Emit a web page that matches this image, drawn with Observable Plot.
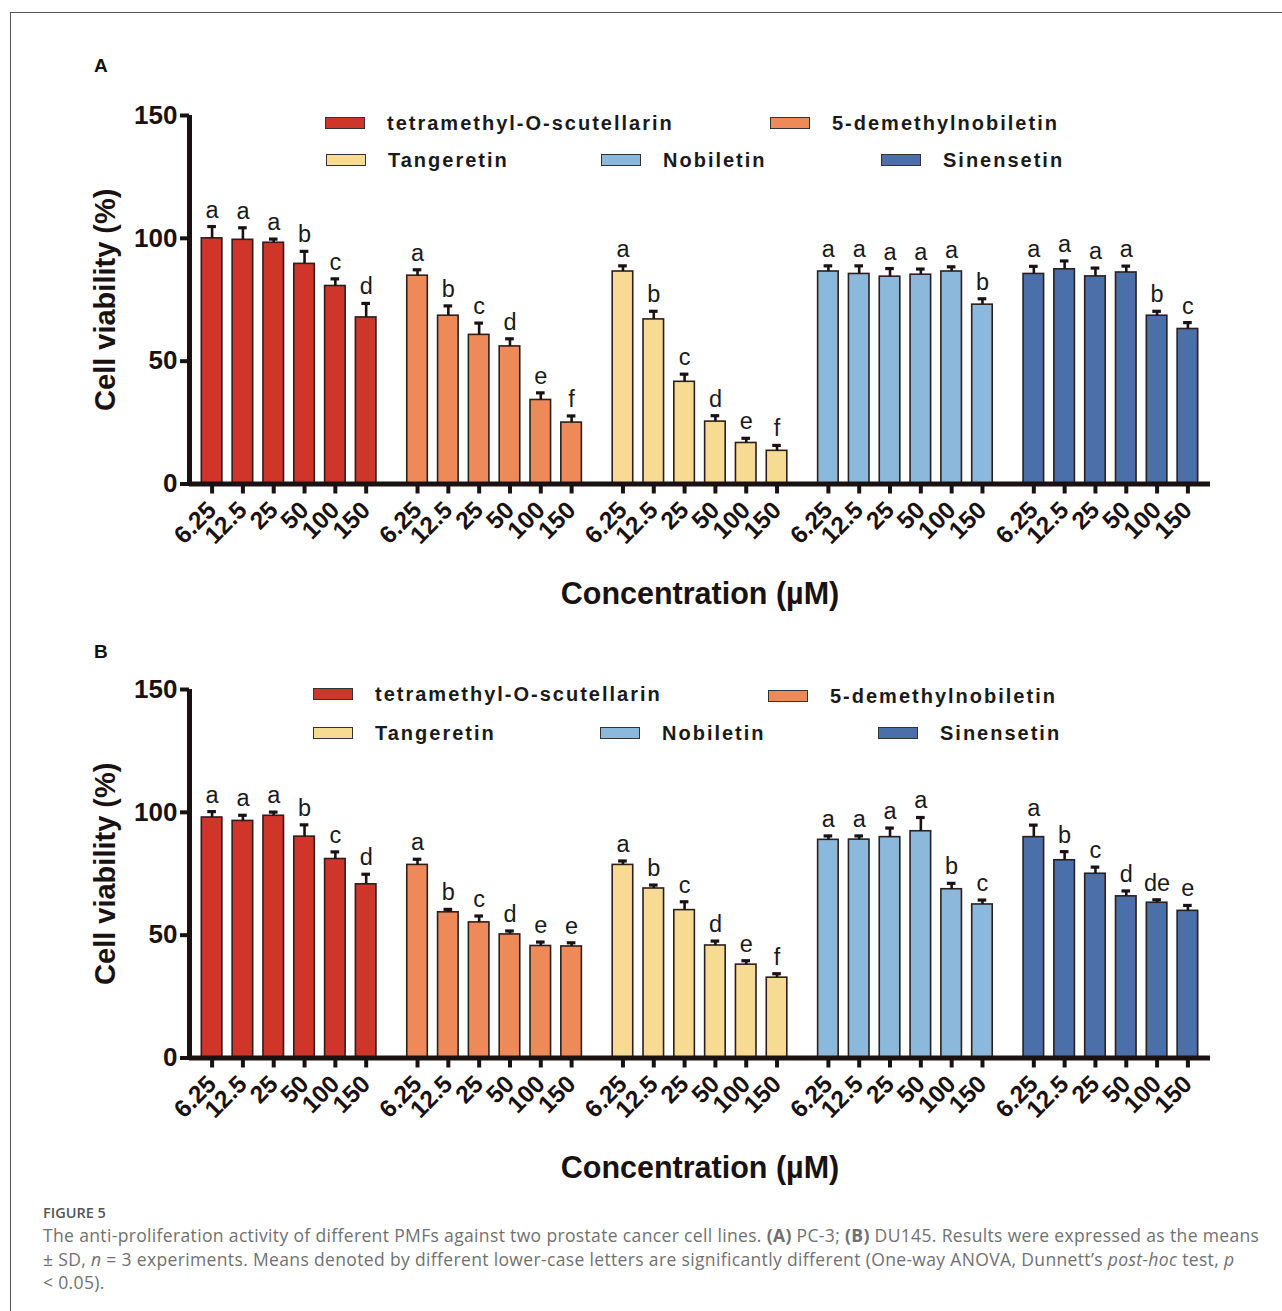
<!DOCTYPE html>
<html>
<head>
<meta charset="utf-8">
<script src="https://cdn.jsdelivr.net/npm/d3@7"></script>
<script src="https://cdn.jsdelivr.net/npm/@observablehq/plot@0.6"></script>
<style>
  html, body { margin: 0; padding: 0; background: #fff; }
  #page { position: relative; width: 1282px; height: 1311px; overflow: hidden; font-family: "Liberation Sans", Arial, sans-serif; }
  #frame { position: absolute; left: 10px; top: 12px; width: 1300px; height: 1400px; border-left: 1.5px solid #555; border-top: 1.5px solid #555; }
  .panel { position: absolute; left: 0; width: 1282px; height: 640px; }
  .panel svg { position: absolute; left: 0; top: 0; }
  .plabel { position: absolute; left: 94px; font: bold 19px "Liberation Sans", Arial, sans-serif; color: #111; }
  .leg { position: absolute; display: flex; align-items: center; height: 20px; }
  .leg .sw { width: 38px; height: 10px; border: 1.5px solid #333; box-sizing: content-box; }
  .leg .lt { position: absolute; font: bold 20px "Liberation Sans", Arial, sans-serif; letter-spacing: 2.0px; color: #1a1a1a; white-space: nowrap; }
  #cap { position: absolute; left: 43px; top: 1203px; font-family: "Open Sans", Lato, sans-serif; color: #707070; }
  #cap .fig { font-size: 14.5px; font-weight: 600; color: #555; letter-spacing: 0px; }
  #cap .txt { font-size: 17.5px; letter-spacing: 0.35px; line-height: 23.5px; margin-top: 2px; white-space: nowrap; }
</style>
</head>
<body>
<div id="page">
  <div id="frame"></div>
  <div class="panel" id="panelA" style="top:0px"></div>
  <div class="panel" id="panelB" style="top:574px"></div>
  <div class="plabel" style="top:55px">A</div>
  <div class="plabel" style="top:641px">B</div>
  <div id="cap">
    <div class="fig">FIGURE 5</div>
    <div class="txt">The anti-proliferation activity of different PMFs against two prostate cancer cell lines. <b>(A)</b> PC-3; <b>(B)</b> DU145. Results were expressed as the means<br>± SD, <i>n</i> = 3 experiments. Means denoted by different lower-case letters are significantly different (One-way ANOVA, Dunnett’s <i>post-hoc</i> test, <i>p</i><br>&lt; 0.05).</div>
  </div>
</div>
<script>
// ---- data ----
const compounds = ["tetramethyl-O-scutellarin", "5-demethylnobiletin", "Tangeretin", "Nobiletin", "Sinensetin"];
const concentrations = ["6.25", "12.5", "25", "50", "100", "150"];
const colors = ["#cf3528", "#ee8a5a", "#f8db93", "#8cb8db", "#4a6fa9"];
const yTicks = [0, 50, 100, 150];

// Panel A: PC-3
const pc3Means = [
  [100.0, 99.4, 98.2, 89.6, 80.6, 67.8],
  [84.8, 68.5, 60.7, 56.0, 34.2, 25.0],
  [86.5, 67.0, 41.6, 25.4, 16.7, 13.5],
  [86.5, 85.5, 84.4, 85.2, 86.5, 73.0],
  [85.5, 87.4, 84.5, 86.1, 68.5, 63.1]
];
const pc3SD = [
  [4.8, 4.9, 1.5, 5.1, 2.9, 5.7],
  [2.4, 4.0, 4.8, 3.1, 2.9, 2.7],
  [2.3, 3.3, 3.1, 2.4, 1.9, 2.2],
  [2.3, 3.3, 3.3, 2.3, 1.9, 2.4],
  [3.1, 3.4, 3.4, 2.6, 1.8, 2.6]
];
const pc3Letters = [
  ["a", "a", "a", "b", "c", "d"],
  ["a", "b", "c", "d", "e", "f"],
  ["a", "b", "c", "d", "e", "f"],
  ["a", "a", "a", "a", "a", "b"],
  ["a", "a", "a", "a", "b", "c"]
];

// Panel B: DU145
const du145Means = [
  [97.9, 96.5, 98.6, 90.1, 81.0, 70.7],
  [78.6, 59.3, 55.2, 50.3, 45.6, 45.4],
  [78.6, 69.0, 60.2, 45.8, 38.0, 32.7],
  [88.8, 88.9, 89.9, 92.3, 68.7, 62.5],
  [89.9, 80.5, 75.0, 65.8, 63.2, 59.9]
];
const du145SD = [
  [2.4, 2.3, 1.5, 4.8, 2.9, 4.1],
  [2.3, 1.2, 2.6, 1.4, 1.6, 1.5],
  [1.6, 1.4, 3.4, 1.8, 1.6, 1.6],
  [1.6, 1.5, 3.7, 5.6, 2.4, 1.8],
  [4.9, 3.5, 2.7, 2.2, 1.2, 2.2]
];
const du145Letters = [
  ["a", "a", "a", "b", "c", "d"],
  ["a", "b", "c", "d", "e", "e"],
  ["a", "b", "c", "d", "e", "f"],
  ["a", "a", "a", "a", "b", "c"],
  ["a", "b", "c", "d", "de", "e"]
];

// ---- layout (slot units) ----
const STEP = 3, BARW = 2, GROUP = 20;
const XMIN = -1.2, XMAX = 98.2;

function buildRows(means, sds, letters) {
  return compounds.flatMap((c, g) => concentrations.map((conc, i) => {
    const left = g * GROUP + i * STEP;
    return {compound: c, conc, mean: means[g][i], sd: sds[g][i], letter: letters[g][i],
            x1: left, x2: left + BARW, xc: left + BARW / 2, top: means[g][i] + sds[g][i]};
  }));
}

function drawPanel(el, means, sds, letters, legendPos) {
  const rows = buildRows(means, sds, letters);
  const tickLabel = new Map(rows.map(d => [d.xc, d.conc]));
  const chart = Plot.plot({
    width: 1282, height: 640,
    marginLeft: 189, marginRight: 72, marginTop: 115, marginBottom: 156.5,
    style: {fontFamily: "'Liberation Sans', Arial, sans-serif", background: "transparent", color: "#1a1212", overflow: "visible"},
    x: {type: "linear", domain: [XMIN, XMAX]},
    y: {domain: [0, 150]},
    color: {domain: compounds, range: colors},
    marks: [
      Plot.rectY(rows, {x1: "x1", x2: "x2", y1: 0, y2: "mean", fill: "compound", stroke: "#2b1f1f", strokeWidth: 1.6}),
      Plot.ruleX(rows, {x: "xc", y1: "mean", y2: "top", stroke: "#1a1212", strokeWidth: 2.6}),
      Plot.ruleY(rows, {x1: d => d.xc - 0.42, x2: d => d.xc + 0.42, y: "top", stroke: "#1a1212", strokeWidth: 3.2}),
      Plot.text(rows, {x: "xc", y: "top", text: "letter", dy: -9, lineAnchor: "bottom", fontSize: 23.5, fill: "#1a1a1a"}),
      Plot.axisY({ticks: yTicks, tickSize: 9, tickPadding: 3, strokeWidth: 4, fontSize: 26, fontWeight: "bold", label: null, letterSpacing: -1}),
      Plot.axisX({ticks: rows.map(d => d.xc), tickFormat: v => tickLabel.get(v), tickSize: 10, tickPadding: 12, tickRotate: -45, strokeWidth: 4, fontSize: 24.5, fontWeight: "bold", label: null}),
      Plot.ruleY([0], {stroke: "#1a1212", strokeWidth: 5}),
      Plot.ruleX([XMIN], {stroke: "#1a1212", strokeWidth: 5}),
      Plot.text(["Cell viability (%)"], {frameAnchor: "left", textAnchor: "middle", lineAnchor: "middle", rotate: -90, dx: -84, fontSize: 29, fontWeight: "bold", fill: "#1a1212"}),
      Plot.text(["Concentration (µM)"], {frameAnchor: "bottom", textAnchor: "middle", lineAnchor: "middle", dy: 110, fontSize: 30.5, fontWeight: "bold", fill: "#1a1212"})
    ]
  });
  el.appendChild(chart);
  // legend (HTML)
  compounds.forEach((c, k) => {
    const p = legendPos[k];
    const item = document.createElement("div");
    item.className = "leg";
    item.style.left = p[0] + "px";
    item.style.top = (p[1] - 10) + "px";
    const sw = document.createElement("div");
    sw.className = "sw";
    sw.style.background = colors[k];
    const lt = document.createElement("div");
    lt.className = "lt";
    lt.style.left = "62px";
    lt.textContent = c;
    item.appendChild(sw);
    item.appendChild(lt);
    el.appendChild(item);
  });
}

drawPanel(document.getElementById("panelA"), pc3Means, pc3SD, pc3Letters,
  [[325, 123], [770, 123], [326, 160], [601, 160], [881, 160]]);
drawPanel(document.getElementById("panelB"), du145Means, du145SD, du145Letters,
  [[313, 120], [768, 122], [313, 159], [600, 159], [878, 159]]);
</script>
</body>
</html>
